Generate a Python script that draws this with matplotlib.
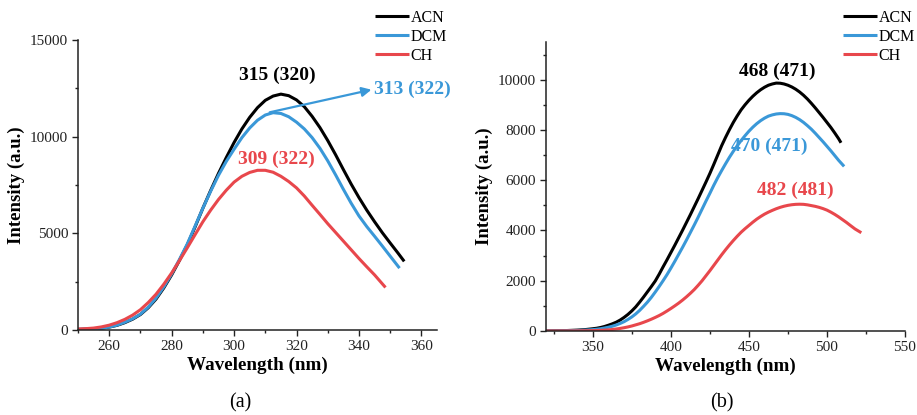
import numpy as np
import matplotlib
matplotlib.use('Agg')
import matplotlib.pyplot as plt
from matplotlib.ticker import MultipleLocator

plt.rcParams['font.family'] = ['Liberation Serif', 'DejaVu Serif']

# ---- panel (a): absorption-like spectra ----
wl_a_acn = [250, 252.5, 255, 257.5, 260, 262.5, 265, 267.5, 270, 272.5, 275, 277.5,
            280, 282.5, 285, 287.5, 290, 292.5, 295, 297.5, 300, 302.5, 305, 307.5,
            310, 312.5, 315, 317.5, 320, 322.5, 325, 327.5, 330, 332.5, 335, 337.5,
            340, 342.5, 345, 347.5, 350, 352.5, 354.5]
int_a_acn = [30, 45, 60, 95, 150, 240, 380, 560, 800, 1150, 1600, 2180,
             2850, 3600, 4400, 5330, 6300, 7220, 8100, 8920, 9700, 10400, 11000, 11500,
             11880, 12100, 12200, 12120, 11900, 11550, 11050, 10470, 9800, 9070, 8300, 7550,
             6850, 6200, 5600, 5030, 4500, 3980, 3550]

wl_a_dcm = [250, 252.5, 255, 257.5, 260, 262.5, 265, 267.5, 270, 272.5, 275, 277.5,
            280, 282.5, 285, 287.5, 290, 292.5, 295, 297.5, 300, 302.5, 305, 307.5,
            310, 312.5, 315, 317.5, 320, 322.5, 325, 327.5, 330, 332.5, 335, 337.5,
            340, 342.5, 345, 347.5, 350, 353]
int_a_dcm = [30, 45, 60, 95, 150, 250, 400, 580, 820, 1180, 1650, 2230,
             2900, 3650, 4450, 5370, 6300, 7180, 8000, 8720, 9350, 9950, 10450, 10850,
             11120, 11240, 11200, 11030, 10750, 10400, 9950, 9400, 8750, 8030, 7280, 6560,
             5900, 5350, 4850, 4340, 3820, 3200]

wl_a_ch = [250, 252.5, 255, 257.5, 260, 262.5, 265, 267.5, 270, 272.5, 275, 277.5,
           280, 282.5, 285, 287.5, 290, 292.5, 295, 297.5, 300, 302.5, 305, 307.5,
           310, 312.5, 315, 317.5, 320, 322.5, 325, 327.5, 330, 332.5, 335, 337.5,
           340, 342.5, 345, 348.5]
int_a_ch = [50, 70, 100, 160, 250, 380, 550, 770, 1050, 1420, 1850, 2370,
            2950, 3590, 4250, 4930, 5600, 6200, 6750, 7230, 7650, 7950, 8150, 8260,
            8260, 8160, 7950, 7680, 7350, 6930, 6450, 5980, 5500, 5050, 4600, 4150,
            3700, 3270, 2850, 2200]

# ---- panel (b): emission spectra ----
wl_b_acn = [320, 330, 340, 345, 350, 352.5, 355, 357.5, 360, 362.5, 365, 367.5, 370,
            372.5, 375, 377.5, 380, 382.5, 385, 387.5, 390, 392.5, 395, 397.5, 400,
            402.5, 405, 407.5, 410, 412.5, 415, 417.5, 420, 422.5, 425, 427.5, 430,
            432.5, 435, 437.5, 440, 442.5, 445, 447.5, 450, 452.5, 455, 457.5, 460,
            462.5, 465, 467.5, 470, 472.5, 475, 477.5, 480, 482.5, 485, 487.5, 490,
            492.5, 495, 497.5, 500, 502.5, 505, 507.5, 509]
int_b_acn = [0, 10, 35, 55, 90, 110, 140, 180, 230, 285, 350, 435, 540,
             660, 800, 960, 1150, 1350, 1560, 1770, 1990, 2260, 2550, 2830, 3120,
             3410, 3710, 4010, 4320, 4630, 4950, 5270, 5600, 5930, 6270, 6630, 7000,
             7370, 7700, 8010, 8300, 8560, 8800, 9000, 9180, 9340, 9480, 9600, 9700,
             9780, 9830, 9865, 9860, 9830, 9780, 9710, 9620, 9510, 9380, 9230, 9060,
             8880, 8690, 8500, 8300, 8100, 7880, 7650, 7490]

wl_b_dcm = [320, 330, 340, 345, 350, 352.5, 355, 357.5, 360, 362.5, 365, 367.5, 370,
            372.5, 375, 377.5, 380, 382.5, 385, 387.5, 390, 392.5, 395, 397.5, 400,
            402.5, 405, 407.5, 410, 412.5, 415, 417.5, 420, 422.5, 425, 427.5, 430,
            432.5, 435, 437.5, 440, 442.5, 445, 447.5, 450, 452.5, 455, 457.5, 460,
            462.5, 465, 467.5, 470, 472.5, 475, 477.5, 480, 482.5, 485, 487.5, 490,
            492.5, 495, 497.5, 500, 502.5, 505, 507.5, 511]
int_b_dcm = [0, 7, 22, 35, 55, 70, 90, 118, 150, 190, 240, 300, 370,
             460, 560, 680, 820, 980, 1150, 1340, 1550, 1770, 2000, 2240, 2500,
             2770, 3050, 3330, 3620, 3920, 4220, 4530, 4850, 5170, 5480, 5800, 6100,
             6380, 6650, 6910, 7150, 7370, 7580, 7770, 7950, 8110, 8250, 8370, 8470,
             8550, 8600, 8635, 8650, 8645, 8620, 8570, 8500, 8410, 8300, 8170, 8030,
             7870, 7700, 7530, 7350, 7170, 6980, 6790, 6550]

wl_b_ch = [320, 330, 340, 345, 350, 355, 360, 362.5, 365, 367.5, 370, 372.5, 375,
           377.5, 380, 382.5, 385, 387.5, 390, 392.5, 395, 397.5, 400, 402.5, 405,
           407.5, 410, 412.5, 415, 417.5, 420, 422.5, 425, 427.5, 430, 432.5, 435,
           437.5, 440, 442.5, 445, 447.5, 450, 452.5, 455, 457.5, 460, 462.5, 465,
           467.5, 470, 472.5, 475, 477.5, 480, 482.5, 485, 487.5, 490, 492.5, 495,
           497.5, 500, 502.5, 505, 507.5, 510, 512.5, 515, 518, 522]
int_b_ch = [0, 2, 5, 10, 15, 25, 45, 60, 80, 103, 130, 162, 200,
            245, 290, 345, 405, 470, 540, 615, 700, 795, 895, 1000, 1110,
            1230, 1360, 1500, 1650, 1820, 2000, 2200, 2400, 2610, 2820, 3030, 3230,
            3420, 3600, 3770, 3930, 4070, 4200, 4330, 4450, 4555, 4650, 4730, 4800,
            4865, 4920, 4965, 5000, 5025, 5040, 5045, 5040, 5020, 4990, 4960, 4920,
            4870, 4810, 4730, 4640, 4540, 4430, 4320, 4200, 4060, 3910]

labels = ['ACN', 'DCM', 'CH']
c_black = '#000000'
c_blue = '#3a98d8'
c_red = '#e8474c'
colors = [c_black, c_blue, c_red]


def style_axes(ax):
    for s in ['top', 'right']:
        ax.spines[s].set_visible(False)
    for s in ['left', 'bottom']:
        ax.spines[s].set_linewidth(1.1)
        ax.spines[s].set_color('#222222')
    ax.tick_params(which='major', direction='out', length=4, width=1.0,
                   labelsize=11, colors='#222222', pad=3)
    ax.tick_params(which='minor', direction='out', length=2.5, width=1.0,
                   colors='#222222')


W, H = 917, 415
fig = plt.figure(figsize=(W / 100, H / 100), dpi=100)

ax1 = fig.add_axes([78 / W, 1 - 330 / H, (437 - 78) / W, (330 - 40) / H])
ax2 = fig.add_axes([546 / W, 1 - 331 / H, (905 - 546) / W, (331 - 42) / H])

lw = 2.2
for wl, it, lab, col in zip([wl_a_acn, wl_a_dcm, wl_a_ch], [int_a_acn, int_a_dcm, int_a_ch],
                            labels, colors):
    ax1.plot(wl, it, color=col, lw=lw, label=lab, solid_capstyle='butt')
for wl, it, lab, col in zip([wl_b_acn, wl_b_dcm, wl_b_ch], [int_b_acn, int_b_dcm, int_b_ch],
                            labels, colors):
    ax2.plot(wl, it, color=col, lw=lw, label=lab, solid_capstyle='butt')

ax1.set_xlim(250, 365)
ax1.set_ylim(0, 15000)
ax1.set_xticks(np.arange(260, 361, 20))
ax1.xaxis.set_minor_locator(MultipleLocator(10))
ax1.yaxis.set_major_locator(MultipleLocator(5000))
ax1.yaxis.set_minor_locator(MultipleLocator(2500))

ax2.set_xlim(320, 550)
ax2.set_ylim(0, 11500)
ax2.set_xticks(np.arange(350, 551, 50))
ax2.xaxis.set_minor_locator(MultipleLocator(25))
ax2.set_yticks(np.arange(0, 10001, 2000))
ax2.yaxis.set_minor_locator(MultipleLocator(1000))

for ax in (ax1, ax2):
    style_axes(ax)
    ax.set_xlabel('Wavelength (nm)', fontsize=13.8, fontweight='bold', labelpad=3)
    ax.set_ylabel('Intensity (a.u.)', fontsize=13.5, fontweight='bold', labelpad=4)

# annotations (a)
ax1.text(313.7, 13150, '315 (320)', color=c_black, fontsize=14, fontweight='bold',
         ha='center', va='center')
ax1.text(357, 12450, '313 (322)', color=c_blue, fontsize=14, fontweight='bold',
         ha='center', va='center')
ax1.text(313.7, 8830, '309 (322)', color=c_red, fontsize=14, fontweight='bold',
         ha='center', va='center')
ax1.annotate('', xy=(344, 12430), xytext=(311.4, 11260),
             arrowprops=dict(arrowstyle='-|>', color=c_blue, lw=1.6,
                             mutation_scale=14, shrinkA=0, shrinkB=0))

# annotations (b)
ax2.text(468, 10350, '468 (471)', color=c_black, fontsize=14, fontweight='bold',
         ha='center', va='center')
ax2.text(463, 7350, '470 (471)', color=c_blue, fontsize=14, fontweight='bold',
         ha='center', va='center')
ax2.text(480, 5600, '482 (481)', color=c_red, fontsize=14, fontweight='bold',
         ha='center', va='center')

# legends above the top-right corners
for ax, x0 in ((ax1, 375), (ax2, 843)):
    ax.legend(loc='upper left', bbox_to_anchor=(x0 / W, 1 - 10 / H),
              bbox_transform=fig.transFigure, frameon=False, fontsize=11.5,
              handlelength=2.1, handletextpad=0.12, labelspacing=0.18,
              borderpad=0, borderaxespad=0)

fig.text(240 / W, 1 - 403 / H, '(a)', fontsize=14.5, ha='center', va='center')
fig.text(722 / W, 1 - 403 / H, '(b)', fontsize=14.5, ha='center', va='center')

fig.savefig('out.png', dpi=100)
